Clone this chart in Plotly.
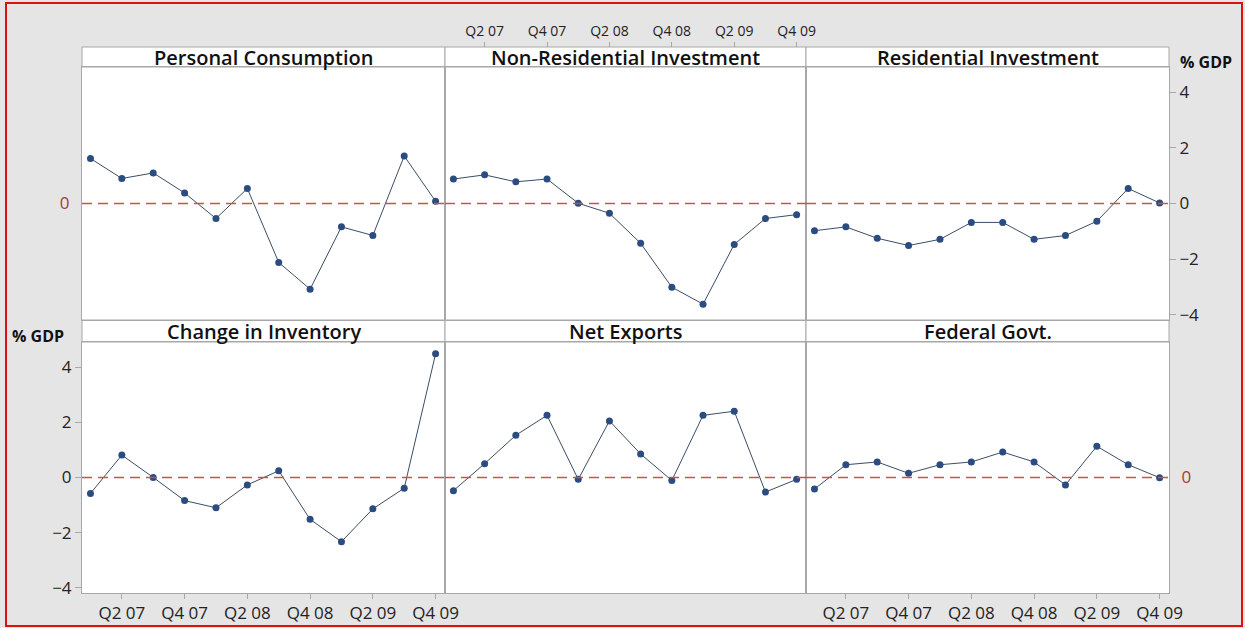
import plotly.graph_objects as go

W, H = 1245, 628

quarters = ["Q1 07", "Q2 07", "Q3 07", "Q4 07", "Q1 08", "Q2 08", "Q3 08", "Q4 08",
            "Q1 09", "Q2 09", "Q3 09", "Q4 09"]
tick_idx = [1, 3, 5, 7, 9, 11]
tick_text = ["Q2 07", "Q4 07", "Q2 08", "Q4 08", "Q2 09", "Q4 09"]

panel_titles = ["Personal Consumption", "Non-Residential Investment", "Residential Investment",
                "Change in Inventory", "Net Exports", "Federal Govt."]

personal_consumption = [1.62, 0.90, 1.10, 0.38, -0.54, 0.54, -2.12, -3.08, -0.84, -1.15, 1.71, 0.08]
non_residential = [0.88, 1.03, 0.78, 0.88, 0.01, -0.35, -1.43, -3.01, -3.62, -1.47, -0.54, -0.40]
residential = [-0.98, -0.84, -1.25, -1.51, -1.29, -0.68, -0.68, -1.29, -1.15, -0.64, 0.54, 0.02]
inventory = [-0.58, 0.81, 0.0, -0.84, -1.10, -0.27, 0.24, -1.52, -2.33, -1.14, -0.39, 4.48]
net_exports = [-0.48, 0.50, 1.53, 2.25, -0.07, 2.05, 0.85, -0.11, 2.25, 2.40, -0.53, -0.07]
federal_govt = [-0.42, 0.46, 0.56, 0.15, 0.46, 0.56, 0.92, 0.56, -0.27, 1.13, 0.46, -0.01]

series = [personal_consumption, non_residential, residential, inventory, net_exports, federal_govt]

y_ticks = [-4, -2, 0, 2, 4]


def px(x):
    return x / W


def py(y):
    return 1 - y / H


cols = [(82, 445), (445, 806), (806, 1169)]
rows = [(67, 320), (342, 593)]
strips = [(47, 67), (320, 342)]

FONT = "Open Sans"
GRAY = "#a8a8a8"
ZERO_RED = "#a63c32"

fig = go.Figure()
x_idx = list(range(len(quarters)))

for i, vals in enumerate(series):
    n = i + 1
    fig.add_trace(go.Scatter(
        x=x_idx, y=vals, mode="lines+markers",
        line=dict(color="#3b4d66", width=1),
        marker=dict(color="#2b4c80", size=7),
        xaxis=f"x{n}" if n > 1 else "x", yaxis=f"y{n}" if n > 1 else "y",
        showlegend=False, hoverinfo="skip"))

layout = dict(
    width=W, height=H, autosize=False, margin=dict(l=0, r=0, t=0, b=0, pad=0),
    paper_bgcolor="#e5e5e5", plot_bgcolor="#ffffff",
    font=dict(family=FONT, color="#222222"),
    shapes=[], annotations=[],
)

xr = [-0.27, 11.3]
yr = [-4.19, 4.91]

for i in range(6):
    n = i + 1
    r, c = divmod(i, 3)
    xk = "xaxis" if n == 1 else f"xaxis{n}"
    yk = "yaxis" if n == 1 else f"yaxis{n}"
    xa = "x" if n == 1 else f"x{n}"
    ya = "y" if n == 1 else f"y{n}"
    x0, x1 = cols[c]
    y0, y1 = rows[r]
    xaxis = dict(domain=[px(x0), px(x1)], anchor=ya, range=xr, showgrid=False, zeroline=False,
                 showline=True, mirror=True, linecolor=GRAY, linewidth=1,
                 showticklabels=False, ticks="", fixedrange=True, automargin=False)
    if r == 1 and c in (0, 2):
        xaxis.update(showticklabels=True, tickvals=tick_idx, ticktext=tick_text,
                     ticks="outside", ticklen=5, tickcolor=GRAY,
                     tickfont=dict(size=17, color="#222222"))
    yaxis = dict(domain=[py(y1), py(y0)], anchor=xa, range=yr, showgrid=False, zeroline=False,
                 showline=True, mirror=True, linecolor=GRAY, linewidth=1,
                 showticklabels=False, ticks="", fixedrange=True, automargin=False)
    if n == 3:
        yaxis.update(side="right", showticklabels=True, tickvals=y_ticks, ticks="outside",
                     ticklen=6, tickcolor=GRAY, tickfont=dict(size=17, color="#222222"))
    if n == 4:
        yaxis.update(side="left", showticklabels=True, tickvals=y_ticks, ticks="outside",
                     ticklen=6, tickcolor=GRAY, tickfont=dict(size=17, color="#222222"))
    if n == 1:
        yaxis.update(side="left", showticklabels=True, tickvals=[0], ticktext=["0"], ticks="",
                     ticklabelstandoff=8, tickfont=dict(size=17, color=ZERO_RED))
    if n == 6:
        yaxis.update(side="right", showticklabels=True, tickvals=[0], ticktext=["0"], ticks="",
                     ticklabelstandoff=8, tickfont=dict(size=17, color=ZERO_RED))
    layout[xk] = xaxis
    layout[yk] = yaxis

    layout["shapes"].append(dict(type="line", xref=f"{xa} domain", yref=ya, x0=0, x1=1, y0=0, y1=0,
                                 line=dict(color="#c8553f", width=1.4, dash="10px,6px")))
    s0, s1 = strips[r]
    layout["shapes"].append(dict(type="rect", xref="paper", yref="paper",
                                 x0=px(x0), x1=px(x1), y0=py(s1), y1=py(s0),
                                 fillcolor="#ffffff", line=dict(color=GRAY, width=1), layer="below"))
    layout["annotations"].append(dict(xref="paper", yref="paper", x=px((x0 + x1) / 2), y=py((s0 + s1) / 2),
                                      text=panel_titles[i], showarrow=False, xanchor="center", yanchor="middle",
                                      font=dict(size=20, color="#111111", family=FONT, weight=600)))

layout["xaxis7"] = dict(overlaying="x2", side="top", anchor="free", position=py(47), range=xr,
                        showgrid=False, zeroline=False, showline=False, automargin=False,
                        tickvals=tick_idx, ticktext=tick_text, ticks="outside", ticklen=5,
                        tickcolor=GRAY, tickfont=dict(size=14, color="#222222"), fixedrange=True)
fig.add_trace(go.Scatter(x=[None], y=[None], xaxis="x7", yaxis="y2", showlegend=False, hoverinfo="skip"))

layout["annotations"].append(dict(xref="paper", yref="paper", x=px(1206), y=py(62), text="% GDP",
                                  showarrow=False, xanchor="center", yanchor="middle",
                                  font=dict(size=16, color="#111111", family=FONT, weight=700)))
layout["annotations"].append(dict(xref="paper", yref="paper", x=px(38), y=py(336), text="% GDP",
                                  showarrow=False, xanchor="center", yanchor="middle",
                                  font=dict(size=16, color="#111111", family=FONT, weight=700)))

layout["shapes"].append(dict(type="rect", xref="paper", yref="paper",
                             x0=px(6), x1=px(1242), y0=py(626), y1=py(3),
                             line=dict(color="#dd1111", width=2), fillcolor="rgba(0,0,0,0)"))

fig.update_layout(**layout)
fig.write_html("out.html", config={"displayModeBar": False, "responsive": False},
               post_script="document.body.style.margin='0';document.body.style.overflow='hidden';")
